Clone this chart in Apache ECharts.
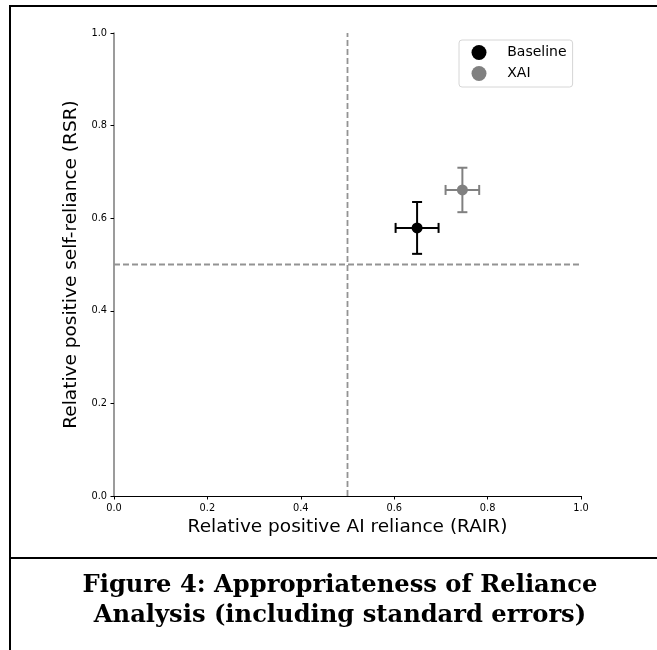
<!DOCTYPE html>
<html><head><meta charset="utf-8">
<script src="https://cdn.jsdelivr.net/npm/echarts@6/dist/echarts.min.js"></script>
<style>html,body{margin:0;padding:0;background:#fff}#c{width:657px;height:650px}</style>
</head><body><div id="c"></div>
<script>
// ---- data ----
const seriesNames = ['Baseline', 'XAI'];
const rairValues = [0.649, 0.746];   // x
const rsrValues = [0.579, 0.661];    // y
const rairErrors = [0.046, 0.036];   // x standard error
const rsrErrors = [0.056, 0.048];    // y standard error
const seriesColors = ['#000000', '#808080'];
const tickLabels = ['0.0', '0.2', '0.4', '0.6', '0.8', '1.0'];
const verticalRef = [[0.5, 0], [0.5, 1]];
const horizontalRef = [[0, 0.5], [1, 0.5]];
const xTitle = 'Relative positive AI reliance (RAIR)';
const yTitle = 'Relative positive self-reliance (RSR)';
const captionLines = ['Figure 4: Appropriateness of Reliance', 'Analysis (including standard errors)'];

// ---- caption font fit ----
const mctx = document.createElement('canvas').getContext('2d');
mctx.font = 'bold 20px "DejaVu Serif"';
const capSize = Math.round(20 * 516 / mctx.measureText(captionLines[0]).width * 10) / 10;

const FONT = '"DejaVu Sans", sans-serif';
const chart = echarts.init(document.getElementById('c'), null, {renderer: 'canvas'});

const series = [];
const refStyle = {color: '#939393', width: 1.8, type: [6, 3]};
series.push({type: 'line', name: 'vref', data: verticalRef, symbol: 'none', lineStyle: refStyle, silent: true, z: 1});
series.push({type: 'line', name: 'href', data: horizontalRef, symbol: 'none', lineStyle: refStyle, silent: true, z: 1});

seriesNames.forEach((n, i) => {
  const col = seriesColors[i];
  series.push({
    type: 'custom', name: n + ' SE', z: 3,
    data: [[rairValues[i], rsrValues[i], rairErrors[i], rsrErrors[i]]],
    encode: {x: 0, y: 1},
    renderItem(params, api) {
      const x = api.value(0), y = api.value(1), xe = api.value(2), ye = api.value(3);
      const l = api.coord([x - xe, y]), r = api.coord([x + xe, y]);
      const t = api.coord([x, y + ye]), b = api.coord([x, y - ye]);
      const cap = 5;
      const style = {stroke: col, lineWidth: 2};
      return {type: 'group', children: [
        {type: 'line', shape: {x1: l[0], y1: l[1], x2: r[0], y2: r[1]}, style},
        {type: 'line', shape: {x1: t[0], y1: t[1], x2: b[0], y2: b[1]}, style},
        {type: 'line', shape: {x1: l[0], y1: l[1] - cap, x2: l[0], y2: l[1] + cap}, style},
        {type: 'line', shape: {x1: r[0], y1: r[1] - cap, x2: r[0], y2: r[1] + cap}, style},
        {type: 'line', shape: {x1: t[0] - cap, y1: t[1], x2: t[0] + cap, y2: t[1]}, style},
        {type: 'line', shape: {x1: b[0] - cap, y1: b[1], x2: b[0] + cap, y2: b[1]}, style}
      ]};
    }
  });
  series.push({
    type: 'scatter', name: n, z: 4,
    data: [[rairValues[i], rsrValues[i]]],
    symbol: 'circle', symbolSize: 11,
    itemStyle: {color: col, opacity: 1}
  });
});

const axisCommon = {
  type: 'value', min: 0, max: 1, interval: 0.2,
  splitLine: {show: false},
  axisTick: {show: true, inside: false, length: 3.5, lineStyle: {color: '#000', width: 1}},
  axisLabel: {fontFamily: FONT, fontSize: 9.8, color: '#000',
    formatter: v => tickLabels[Math.round(v / 0.2)]},
  nameLocation: 'middle',
  nameTextStyle: {fontFamily: FONT, fontSize: 18.5, color: '#000'}
};

chart.setOption({
  animation: false,
  backgroundColor: '#fff',
  grid: {left: 114, right: 76, top: 33, bottom: 154, containLabel: false},
  xAxis: Object.assign({}, axisCommon, {
    name: xTitle, nameGap: 20,
    axisLine: {show: true, lineStyle: {color: '#000', width: 1}},
    axisLabel: Object.assign({}, axisCommon.axisLabel, {margin: 7})
  }),
  yAxis: Object.assign({}, axisCommon, {
    name: yTitle, nameGap: 25, nameRotate: 90,
    axisLine: {show: true, lineStyle: {color: '#7a7a7a', width: 1.5}},
    axisLabel: Object.assign({}, axisCommon.axisLabel, {margin: 7})
  }),
  legend: {
    data: seriesNames.map(n => ({name: n, icon: 'circle', itemStyle: {opacity: 1}})),
    orient: 'vertical', left: 459, top: 40,
    itemWidth: 30.5, itemHeight: 15, itemGap: 6,
    padding: [5, 6, 6, 12.5],
    backgroundColor: '#fff', borderColor: '#d6d6d6', borderWidth: 1, borderRadius: 3,
    formatter: name => '{t|' + name + '}',
    textStyle: {fontFamily: FONT, fontSize: 14, color: '#000',
      rich: {t: {fontFamily: FONT, fontSize: 14, color: '#000', padding: [0, 0, 0, 8]}}}
  },
  graphic: [
    {type: 'line', shape: {x1: 10, y1: 6, x2: 657, y2: 6}, style: {stroke: '#000', lineWidth: 2}},
    {type: 'line', shape: {x1: 10, y1: 5, x2: 10, y2: 650}, style: {stroke: '#000', lineWidth: 2}},
    {type: 'line', shape: {x1: 10, y1: 558, x2: 657, y2: 558}, style: {stroke: '#000', lineWidth: 2}},
    {type: 'text', x: 340, y: 586, style: {text: captionLines[0], font: 'bold ' + capSize + 'px "DejaVu Serif"', fill: '#000', align: 'center', verticalAlign: 'middle'}},
    {type: 'text', x: 340, y: 616, style: {text: captionLines[1], font: 'bold ' + capSize + 'px "DejaVu Serif"', fill: '#000', align: 'center', verticalAlign: 'middle'}}
  ],
  series
});
</script></body></html>
